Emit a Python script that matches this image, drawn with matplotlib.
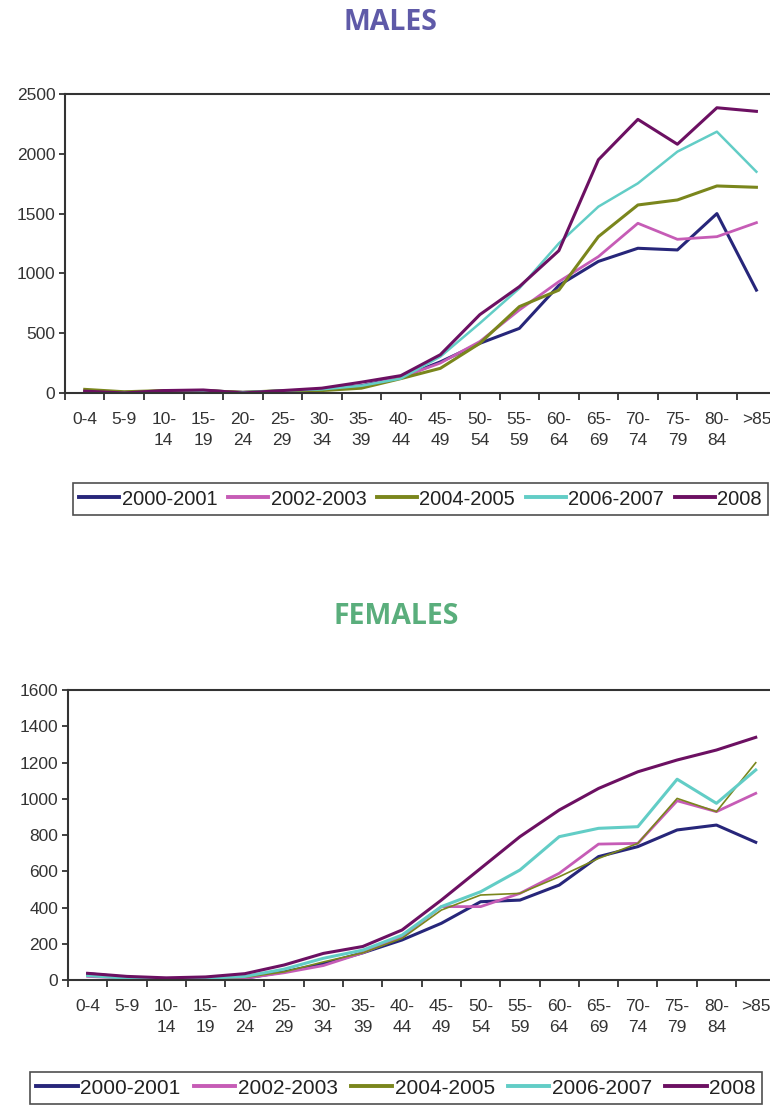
import matplotlib
matplotlib.use('Agg')
import matplotlib.pyplot as plt

# age groups (tick labels)
ages = ["0-4", "5-9", "10-\n14", "15-\n19", "20-\n24", "25-\n29", "30-\n34", "35-\n39",
        "40-\n44", "45-\n49", "50-\n54", "55-\n59", "60-\n64", "65-\n69", "70-\n74",
        "75-\n79", "80-\n84", ">85"]
periods = ["2000-2001", "2002-2003", "2004-2005", "2006-2007", "2008"]
colors = ["#27267a", "#c65cb6", "#7a861c", "#62cdc6", "#6c1062"]

# males
m_2000 = [10, 5, 15, 20, 5, 15, 30, 60, 130, 260, 415, 540, 900, 1100, 1210, 1196, 1500, 860]
m_2002 = [15, 5, 15, 20, 5, 15, 30, 55, 130, 250, 430, 694, 931, 1140, 1419, 1285, 1307, 1424]
m_2004 = [30, 10, 20, 20, 5, 20, 20, 40, 120, 206, 415, 722, 860, 1307, 1572, 1614, 1731, 1720]
m_2006 = [0, 0, 0, 5, 5, 20, 30, 60, 120, 304, 583, 875, 1251, 1558, 1753, 2018, 2185, 1850]
m_2008 = [15, 0, 20, 25, 0, 20, 40, 90, 145, 320, 655, 889, 1190, 1950, 2288, 2080, 2385, 2355]

# females
f_2000 = [35, 15, 5, 5, 10, 45, 90, 150, 221, 313, 432, 441, 524, 681, 736, 828, 855, 760]
f_2002 = [20, 10, 5, 10, 10, 40, 80, 150, 240, 405, 405, 478, 589, 750, 754, 989, 929, 1030]
f_2004 = [25, 10, 5, 10, 15, 45, 100, 150, 230, 386, 469, 478, 570, 671, 754, 1002, 929, 1199]
f_2006 = [25, 10, 5, 10, 20, 60, 120, 165, 248, 405, 487, 607, 791, 837, 846, 1108, 975, 1159]
f_2008 = [37, 20, 12, 17, 35, 83, 147, 185, 276, 441, 616, 791, 938, 1057, 1149, 1214, 1269, 1339]

males = [m_2000, m_2002, m_2004, m_2006, m_2008]
females = [f_2000, f_2002, f_2004, f_2006, f_2008]

fig = plt.figure(figsize=(7.7, 11.06), dpi=100)
plt.rcParams['font.family'] = ['Liberation Sans', 'DejaVu Sans']

def draw_panel(ax, series, ymax, ystep, widths):
    x = range(len(ages))
    lines = []
    for vals, c, lw, name in zip(series, colors, widths, periods):
        ln, = ax.plot(x, vals, color=c, lw=lw, solid_joinstyle='round', label=name)
        lines.append(ln)
    ax.set_xlim(-0.5, len(ages) - 0.5)
    ax.set_ylim(0, ymax)
    ax.set_yticks(range(0, ymax + 1, ystep))
    # ticks sit between the categories, labels at the centres
    ax.set_xticks([i + 0.5 for i in range(-1, len(ages))], minor=False)
    ax.set_xticklabels([])
    ax.set_xticks(list(x), minor=True)
    ax.set_xticklabels(ages, minor=True, linespacing=1.45, va='top')
    ax.tick_params(axis='x', which='minor', length=0, pad=14, labelsize=12.5, labelcolor='#333333')
    ax.tick_params(axis='x', which='major', length=5, width=1.3, color='#333333', direction='out')
    ax.tick_params(axis='y', length=4, width=1.3, color='#333333', labelsize=12.5, labelcolor='#333333', pad=3)
    for s in ax.spines.values():
        s.set_color('#333333')
        s.set_linewidth(1.5)
    return lines

ax1 = fig.add_axes([0.0844, 0.6447, 0.9236, 0.2703])
lines1 = draw_panel(ax1, males, 2500, 500, [2.2, 2.0, 2.2, 1.8, 2.2])
ax2 = fig.add_axes([0.0883, 0.1139, 0.9187, 0.2622])
lines2 = draw_panel(ax2, females, 1600, 200, [2.2, 2.0, 1.2, 2.2, 2.2])

fig.text(0.507, 1 - 23 / 1106, "MALES", ha='center', va='center', fontsize=20.5,
         fontweight='bold', color='#5f5aa8', family=['Open Sans', 'DejaVu Sans'])
fig.text(0.514, 1 - 617 / 1106, "FEMALES", ha='center', va='center', fontsize=20.5,
         fontweight='bold', color='#5aae7c', family=['Open Sans', 'DejaVu Sans'])

for lines, box, fs in [(lines1, (73 / 770, 1 - 518 / 1106, 695 / 770, 38 / 1106), 14.5),
                       (lines2, (30 / 770, 1 - 1108 / 1106, 732 / 770, 40 / 1106), 15)]:
    leg = fig.legend(handles=lines, loc='center', bbox_to_anchor=box, ncol=5, mode='expand',
                     fontsize=fs, frameon=True, fancybox=False, handlelength=2.0,
                     handletextpad=0.12, columnspacing=0.5, borderpad=0.3,
                     borderaxespad=0, labelcolor='#222222')
    leg.get_frame().set_edgecolor('#222222')
    leg.get_frame().set_linewidth(1.2)
    for h in leg.get_lines():
        h.set_linewidth(2.8)

fig.savefig("out.png", dpi=100)
